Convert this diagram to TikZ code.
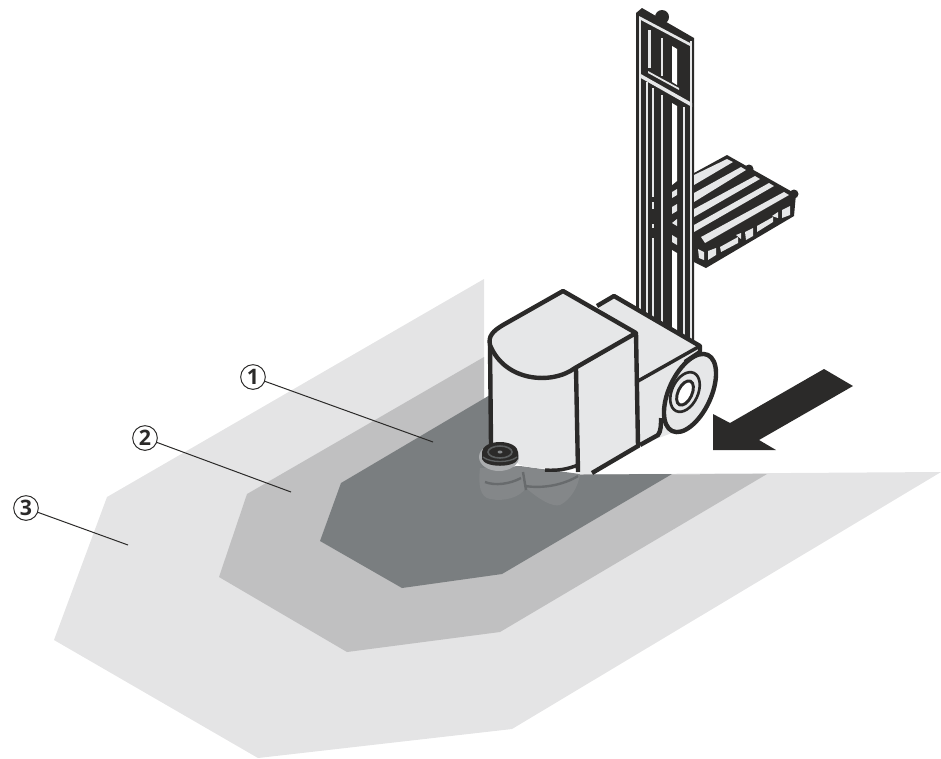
\documentclass[tikz,border=0pt]{standalone}
\usepackage{fontspec}
\setmainfont{Open Sans}
\usepackage{xcolor}
\usetikzlibrary{calc}
\definecolor{ZonaClara}{RGB}{228,228,229}
\definecolor{ZonaMedia}{RGB}{192,192,193}
\definecolor{ZonaOscura}{RGB}{122,126,128}
\definecolor{Cuerpo}{RGB}{230,231,232}
\definecolor{Negro}{RGB}{43,42,41}
\definecolor{Reflejo}{RGB}{132,135,137}
\tikzset{
  contorno/.style={draw=Negro,line width=3.3pt,line join=round,fill=Cuerpo},
  raya/.style={fill=Cuerpo},
  cifra/.style={circle,draw=Negro,line width=0.75pt,inner sep=0pt,minimum size=18.5pt,font=\fontsize{16}{16}\selectfont\bfseries,text=Negro},
  guia/.style={draw=Negro,line width=0.75pt}
}
\begin{document}
\begin{tikzpicture}[x=0.75pt,y=-0.75pt]
  \useasboundingbox (0,0) rectangle (941,758);
  % zonas
  \fill[ZonaClara] (484,279) -- (107,497) -- (54,640) -- (258,758) -- (512,729) -- (941,472) -- (484,475) -- cycle;
  \fill[ZonaMedia] (484,357) -- (247,494) -- (219,577) -- (347,652) -- (500,632) -- (767,474) -- (484,475) -- cycle;
  \fill[ZonaOscura] (490,395) -- (341,483) -- (320,541) -- (402,588) -- (502,574) -- (672,474) -- (490,475) -- cycle;
  % reflejo
  \fill[Reflejo] (480,468) .. controls (478,485) and (480,497) .. (490,499) .. controls (505,502) and (520,497) .. (526,488)
    .. controls (540,500) and (552,507) .. (560,505) .. controls (570,500) and (578,488) .. (580,474) -- (520,466) -- cycle;
  \draw[ZonaOscura!85!black,line width=1.8pt] (485,482) .. controls (495,486) and (510,484) .. (521,478)
    (525,486) .. controls (545,489) and (565,484) .. (578,476) (523,472) -- (526,490);
  % mastil
  \fill[Negro] (662,17) circle (7);
  \fill[Negro,line join=round] (636,13) -- (642,8) -- (694,38) -- (694,345) -- (636,312) -- cycle;
  \foreach \xa/\xb/\ya/\yb in {639/641/18/312,690/692/41/345,646/648/82/315,652/654/88/197,661/663/95/330,683/685/107/340,648/651/30/68,661/663/38/76}
    \fill[raya] (\xa,\ya) rectangle (\xb,\yb);
  \fill[raya] (639,16) -- (690,43) -- (690,46) -- (639,19) -- cycle;
  \fill[raya] (639,73) -- (692,103) -- (692,107) -- (639,77) -- cycle;
  \fill[raya] (648,71) -- (679,88) -- (679,90) -- (648,73) -- cycle;
  \fill[white] (672,46) -- (677,49) -- (677,85) -- (672,82) -- cycle;
  \fill[white] (672,103) -- (677,106) -- (677,181) -- (672,185) -- cycle;
  \fill[raya] (672,192) -- (677,189) -- (677,195) -- (672,198) -- cycle;
  \fill[raya] (672,207) -- (677,204) -- (677,211) -- (672,214) -- cycle;
  \fill[raya] (677,219) -- (677,226) -- (672,223) -- cycle;
  \fill[raya] (672,235) -- (677,238) -- (677,245) -- (672,242) -- cycle;
  \fill[white] (672,250) -- (677,253) -- (677,340) -- (672,340) -- cycle;
  \foreach \yy/\zz in {202/209,224/228,238/330}
    \fill[raya] (652,\yy) rectangle (654,\zz);
  % palet
  \fill[Negro] (749,169) circle (4.5) (794,194) circle (4.5);
  \fill[Negro,line join=round] (694,173) -- (727,155) -- (796,194) -- (794,216) -- (706,268) -- (694,262) -- cycle;
  \fill[raya] (694,175) -- (727,159) -- (733,162) -- (694,185) -- cycle;
  \fill[raya] (694,193) -- (741,167) -- (746,170) -- (694,202) -- cycle;
  \fill[raya] (694,209) -- (755,176) -- (760,179) -- (694,217) -- cycle;
  \fill[raya] (694,225) -- (769,183) -- (774,186) -- (694,232) -- cycle;
  \fill[raya] (701,237) -- (784,192) -- (789,195) -- (705,243) -- cycle;
  \fill[raya] (698,249) -- (704,252) -- (704,260) -- (699,258) -- cycle;
  \fill[raya] (708,251) -- (716,248) -- (716,255) -- (708,260) -- cycle;
  \fill[raya] (720,247) -- (738,237) -- (738,243) -- (721,252) -- cycle;
  \fill[raya] (736,235) -- (741,233) -- (741,239) -- cycle;
  \fill[raya] (745,232) -- (753,228) -- (753,236) -- (746,240) -- cycle;
  \fill[raya] (757,226) -- (773,217) -- (773,222) -- (757,232) -- cycle;
  \fill[raya] (772,216) -- (778,212) -- (778,218) -- cycle;
  \fill[raya] (782,210) -- (790,206) -- (790,215) -- (782,218) -- cycle;
  % rueda
  \fill[Cuerpo] (638,380) -- (700,346) -- (680,430) -- (640,445) -- cycle;
  \draw[contorno] (690,393) circle[x radius=21,y radius=42,rotate=-25];
  \draw[draw=Negro,line width=2pt] (685,392) circle[x radius=13,y radius=21,rotate=-25];
  \draw[draw=Negro,line width=2.2pt,fill=white] (685,393) circle[x radius=7,y radius=13,rotate=-25];
  % carroceria
  \fill[Cuerpo] (597,306) -- (614,296) -- (700,346) -- (638,380) -- (630,340) -- cycle;
  \draw[Negro,line width=3.3pt,line join=round] (597,306) -- (614,296) -- (700,346) -- (700,352) -- (685,362);
  \draw[Negro,line width=2.6pt] (700,346) -- (638,381);
  \draw[Negro,line width=3.3pt] (640,445) -- (658,435) .. controls (661,431) and (661,425) .. (661,418);
  \fill[Cuerpo] (490,345) -- (491,443) -- (520,465) .. controls (540,470) and (560,470) .. (578,466) -- (579,474) -- (592,474) -- (638,446) -- (636,333) -- cycle;
  \draw[Negro,line width=3.3pt] (490,345) -- (491,445);
  \draw[Negro,line width=3.3pt] (576,369) -- (578,472);
  \draw[Negro,line width=3.3pt] (636,333) -- (638,446) -- (592,473);
  \draw[Negro,line width=2.6pt] (545,470) .. controls (558,471) and (568,469) .. (578,465);
  \draw[contorno] (563,291) -- (636,333) -- (575,368) .. controls (552,385) and (505,382) .. (490,345) .. controls (488,336) and (493,331) .. (503,325) -- cycle;
  % sensor
  \fill[Cuerpo!45!ZonaOscura] (499,457) ellipse (20 and 14);
  \fill[Negro] (482,452) -- (482,459) .. controls (485,468) and (515,468) .. (518,459) -- (518,452) -- cycle;
  \fill[Negro] (500,452) ellipse (18 and 10);
  \draw[Reflejo!70!black,line width=1.2pt] (500,452) ellipse (12 and 6);
  \draw[Reflejo!70!black,line width=1pt] (483,457) .. controls (490,463) and (510,463) .. (517,457);
  \fill[Reflejo] (500,452) ellipse (2.5 and 1.5);
  % flecha
  \fill[Negro] (824,369) -- (853,386) -- (759,440) -- (776,450) -- (713,450) -- (713,414) -- (730,423) -- cycle;
  % cifras
  \coordinate (p1) at (433,442);
  \coordinate (p2) at (291,492);
  \coordinate (p3) at (128,545);
  \node[cifra] (n1) at (253,377) {1};
  \node[cifra] (n2) at (145,438) {2};
  \node[cifra] (n3) at (26,508) {3};
  \draw[guia] (n1) -- (p1);
  \draw[guia] (n2) -- (p2);
  \draw[guia] (n3) -- (p3);
\end{tikzpicture}
\end{document}
